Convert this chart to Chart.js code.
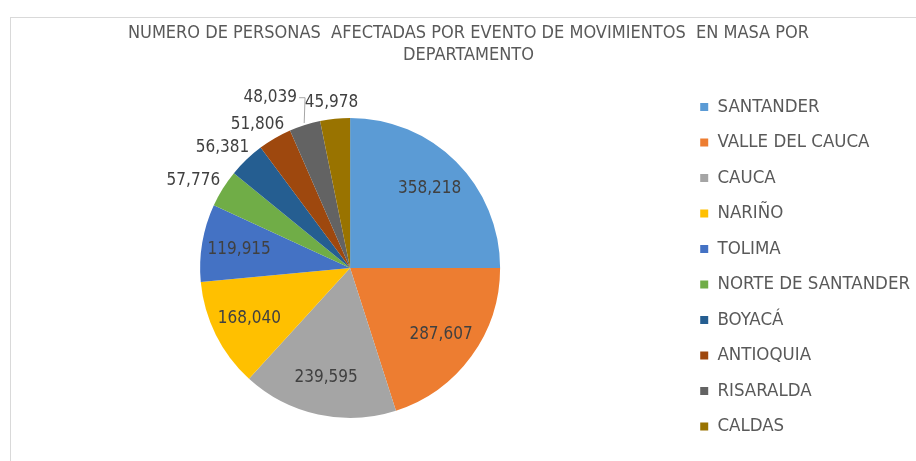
<!DOCTYPE html>
<html>
<head>
<meta charset="utf-8">
<script src="https://cdn.jsdelivr.net/npm/chart.js@4.4.1/dist/chart.umd.min.js"></script>
<style>
  html, body { margin: 0; padding: 0; background: #fff; }
  #wrap { position: relative; width: 916px; height: 461px; overflow: hidden; }
  #frame { position: absolute; left: 10px; top: 17px; right: -2px; bottom: -2px;
           border-left: 1px solid #d9d9d9; border-top: 1px solid #d9d9d9; }
  canvas { position: absolute; left: 0; top: 0; }
</style>
</head>
<body>
<div id="wrap">
  <div id="frame"></div>
  <canvas id="pie-chart" width="916" height="461"></canvas>
</div>
<script>
// datos del gráfico
const departamentos = ["SANTANDER", "VALLE DEL CAUCA", "CAUCA", "NARIÑO", "TOLIMA",
  "NORTE DE SANTANDER", "BOYACÁ", "ANTIOQUIA", "RISARALDA", "CALDAS"];
const personas = [358218, 287607, 239595, 168040, 119915, 57776, 56381, 51806, 48039, 45978];
const colores = ["#5B9BD5", "#ED7D31", "#A5A5A5", "#FFC000", "#4472C4",
  "#70AD47", "#255E91", "#9E480E", "#636363", "#997300"];
const titulo = ["NUMERO DE PERSONAS  AFECTADAS POR EVENTO DE MOVIMIENTOS  EN MASA POR", "DEPARTAMENTO"];

const FUENTE = "'Liberation Sans Narrow', 'Arial Narrow', 'DejaVu Sans Condensed', sans-serif";

// etiquetas de datos (dentro / fuera del sector)
const etiquetas = {
  id: "etiquetas",
  afterDatasetsDraw(chart) {
    const ctx = chart.ctx;
    const meta = chart.getDatasetMeta(0);
    const total = personas.reduce((a, b) => a + b, 0);
    const h = 16;
    const colocadas = [];
    ctx.save();
    ctx.font = "17px " + FUENTE;
    ctx.fillStyle = "#404040";
    ctx.textAlign = "center";
    ctx.textBaseline = "middle";

    const orden = meta.data.map((_, i) => i).reverse();
    orden.forEach(i => {
      const p = meta.data[i].getProps(["x", "y", "startAngle", "endAngle", "outerRadius"], true);
      const a = (p.startAngle + p.endAngle) / 2;
      const cos = Math.cos(a), sin = Math.sin(a);
      const texto = personas[i].toLocaleString("en-US");
      const w = ctx.measureText(texto).width;

      if (personas[i] / total > 0.06) {
        const r = p.outerRadius * 0.75;
        ctx.fillText(texto, p.x + cos * r, p.y + sin * r);
        return;
      }

      const r = p.outerRadius + 8;
      let cx = p.x + cos * r + cos * w / 2;
      let cy = p.y + sin * r + sin * h / 2;
      const choca = () => colocadas.some(b =>
        Math.abs(b.x - cx) < (b.w + w) / 2 + 4 && Math.abs(b.y - cy) < h);
      let k = 0;
      while (choca() && k < 50) {
        cx += cos < 0 ? -6 : 6;
        cy -= 3;
        k++;
      }
      colocadas.push({ x: cx, y: cy, w: w });
      ctx.fillText(texto, cx, cy);

      if (k > 0) {
        // línea guía
        const lado = cos < 0 ? 1 : -1;
        const x0 = cx + lado * (w / 2 + 2);
        ctx.strokeStyle = "#a6a6a6";
        ctx.lineWidth = 1;
        ctx.beginPath();
        ctx.moveTo(x0, cy);
        ctx.lineTo(x0 + lado * 6, cy);
        ctx.lineTo(p.x + cos * (p.outerRadius + 2), p.y + sin * (p.outerRadius + 2));
        ctx.stroke();
      }
    });
    ctx.restore();
  }
};

new Chart(document.getElementById("pie-chart"), {
  type: "pie",
  data: {
    labels: departamentos,
    datasets: [
      {
        data: personas,
        backgroundColor: colores,
        borderWidth: 0,
      },
    ],
  },
  options: {
    responsive: false,
    animation: false,
    devicePixelRatio: 1,
    radius: 150,
    layout: { padding: { top: 0, left: 17, right: -4, bottom: 3 } },
    plugins: {
      title: {
        display: true,
        text: titulo,
        color: "#595959",
        font: { family: FUENTE, size: 18, weight: "normal", lineHeight: 1.22 },
        padding: { top: 22, bottom: 12 },
      },
      legend: {
        position: "right",
        align: "center",
        title: {
          display: true,
          text: " ",
          font: { size: 12, lineHeight: 1.2 },
          padding: { top: 30, bottom: 31 },
        },
        labels: {
          boxWidth: 8,
          boxHeight: 8,
          padding: 17,
          color: "#595959",
          font: { family: FUENTE, size: 18.5 },
        },
      },
      tooltip: { enabled: false },
    },
  },
  plugins: [etiquetas],
});
</script>
</body>
</html>
